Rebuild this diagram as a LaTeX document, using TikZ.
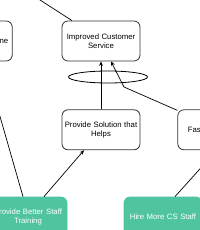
\documentclass[tikz,border=0pt]{standalone}
\usepackage{fontspec}
\setmainfont{Liberation Sans}
\usetikzlibrary{arrows.meta,positioning,shapes.geometric}
\definecolor{boxline}{RGB}{51,51,51}
\definecolor{staffcol}{RGB}{80,196,160}

\begin{document}
\begin{tikzpicture}[x=1pt, y=-1pt,
  font=\fontsize{7.75}{9}\selectfont,
  node distance=48pt and 37pt,
  goal/.style={draw=boxline, rounded corners=6pt, align=center, line width=0.8pt,
               minimum width=78pt, minimum height=40pt, text width=76pt, inner sep=0pt},
  action/.style={goal, draw=staffcol, fill=staffcol, text=white},
  flow/.style={-{Stealth[length=4.5pt,width=3.8pt]}, line width=0.7pt, draw=black},
  link/.style={line width=0.7pt, draw=black},
  ]
  \useasboundingbox (0,0) rectangle (200,230);
  \node[goal] (improved) at (101,41) {Improved Customer\\ Service};
  \node[goal, left=49pt of improved, text width=70pt, align=right] (online) {ine};
  \node[goal, below=of improved] (solution) {Provide Solution that\\ Helps};
  \node[goal, right=of solution, text width=58pt, align=left] (faster) {Fas};
  \node[action] (training) at (28,217) {Provide Better Staff\\ Training};
  \node[action] (hire) at (163,217) {Hire More CS Staff};
  \node[ellipse, draw=black, line width=0.8pt, minimum width=79pt, minimum height=12pt,
        inner sep=0pt] (combine) at (108,77) {};
  \coordinate (above) at (9,-20);
  \coordinate (bend) at (124,87);
  \draw[link] (above) -- ([xshift=-29pt]improved.north);
  \draw[flow] (solution.north) -- (improved.south);
  \draw[flow] ([yshift=-1pt]faster.north west) -- (bend) -- ([xshift=10pt]improved.south);
  \draw[flow] ([xshift=-5pt]training.north) -- ([xshift=11pt]online.south);
  \draw[flow] ([xshift=16pt]training.north) -- ([xshift=-17pt]solution.south);
  \draw[flow] ([xshift=12pt]hire.north) -- (faster.south);
\end{tikzpicture}
\end{document}
